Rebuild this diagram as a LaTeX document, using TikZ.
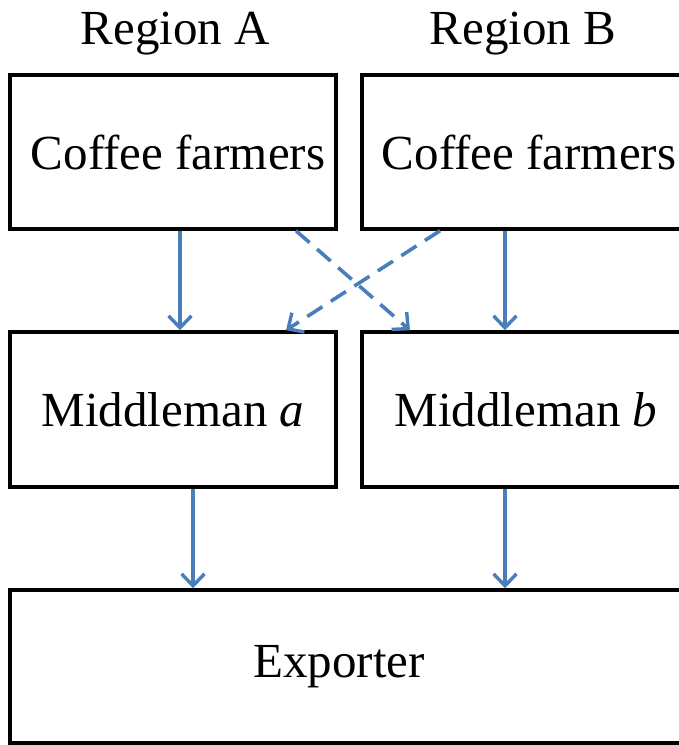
\documentclass[tikz,border=0pt]{standalone}
\usepackage{fontspec}
\setmainfont{Liberation Serif}
\usetikzlibrary{arrows.meta}
\definecolor{arrowblue}{HTML}{4A7EBB}
\tikzset{
  box/.style={draw=black, line width=3.5pt, rectangle, inner sep=0pt, font=\fontsize{49}{55}\selectfont},
  lbl/.style={inner sep=0pt, font=\fontsize{49}{55}\selectfont},
  flow/.style={draw=arrowblue, line width=3.6pt, -{Straight Barb[length=12pt,width=23pt,line width=3.4pt]}},
  cross/.style={flow, dash pattern=on 18pt off 10pt}
}
\begin{document}
\begin{tikzpicture}[x=1pt,y=-1pt]
\useasboundingbox (0,0) rectangle (679,745);
\node[lbl] (ra) at (175.5,34) {Region A};
\node[lbl] (rb) at (523,34) {Region B};
\node[box, minimum width=326pt, minimum height=154pt] (fa) at (173,152) {\hspace*{10pt}Coffee farmers};
\node[box, minimum width=328pt, minimum height=154pt] (fb) at (526,152) {\hspace*{6pt}Coffee farmers};
\node[box, minimum width=326pt, minimum height=155pt] (ma) at (173,409.5) {Middleman \textit{a}};
\node[box, minimum width=328pt, minimum height=155pt] (mb) at (526,409.5) {Middleman \textit{b}};
\node[box, minimum width=690pt, minimum height=153pt] (ex) at (355,666.5) {};
\node[lbl] (ext) at (339,667) {Exporter};
\draw[flow] ([xshift=7pt]fa.south) -- ([xshift=7pt]ma.north);
\draw[flow] ([xshift=-21pt]fb.south) -- ([xshift=-21pt]mb.north);
\draw[cross] ([xshift=123pt]fa.south) -- ([xshift=-116pt]mb.north);
\draw[cross] ([xshift=-86pt]fb.south) -- ([xshift=113pt]ma.north);
\draw[flow] ([xshift=20pt]ma.south) -- ([xshift=20pt]ma.south |- ex.north);
\draw[flow] ([xshift=-21pt]mb.south) -- ([xshift=-21pt]mb.south |- ex.north);
\end{tikzpicture}
\end{document}
